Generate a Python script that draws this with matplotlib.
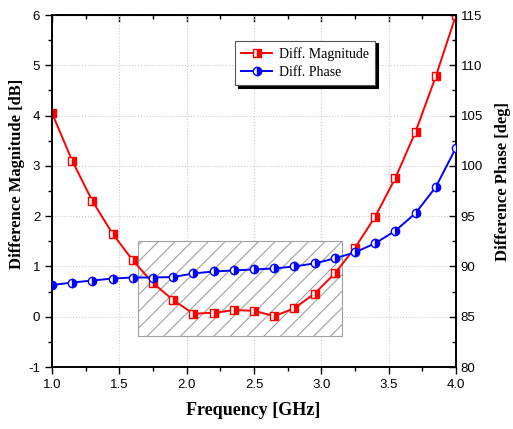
import matplotlib
matplotlib.use("Agg")
import matplotlib.pyplot as plt
from matplotlib.patches import Rectangle
from matplotlib.ticker import MultipleLocator, AutoMinorLocator

freq = [1.0, 1.15, 1.3, 1.45, 1.6, 1.75, 1.9, 2.05, 2.2, 2.35, 2.5,
        2.65, 2.8, 2.95, 3.1, 3.25, 3.4, 3.55, 3.7, 3.85, 4.0]
mag_db = [4.05, 3.10, 2.30, 1.65, 1.12, 0.67, 0.33, 0.06, 0.08, 0.13, 0.12,
          0.01, 0.17, 0.46, 0.86, 1.37, 1.99, 2.76, 3.68, 4.78, 6.0]
phase_deg = [88.15, 88.4, 88.6, 88.8, 88.9, 88.9, 88.95, 89.3, 89.5, 89.6, 89.7,
             89.8, 90.0, 90.3, 90.8, 91.4, 92.3, 93.55, 95.3, 97.9, 101.8]

# highlighted band (GHz, dB)
band_x = (1.64, 3.155)
band_y = (-0.38, 1.5)

plt.rcParams.update({
    "font.family": "Liberation Sans",
    "font.size": 9.5,
    "axes.unicode_minus": False,
    "hatch.color": "#a8a8a8",
    "hatch.linewidth": 0.8,
})

fig = plt.figure(figsize=(5.13, 4.29), dpi=100)
ax = fig.add_axes([0.1014, 0.1445, 0.7875, 0.8205])
ax2 = ax.twinx()

ax.set_xlim(1.0, 4.0)
ax.set_ylim(-1, 6)
ax2.set_ylim(80, 115)

ax.grid(True, color="#cccccc", linestyle=":", linewidth=0.8)
ax.set_axisbelow(True)

ax.add_patch(Rectangle((band_x[0], band_y[0]), band_x[1] - band_x[0], band_y[1] - band_y[0],
                       facecolor="white", edgecolor="#a0a0a0", hatch="//", linewidth=0.8,
                       zorder=1.5))

l1, = ax.plot(freq, mag_db, color="red", linewidth=1.4, marker="s", markersize=5.5,
              fillstyle="right", markerfacecolor="red", markerfacecoloralt="white",
              markeredgecolor="red", markeredgewidth=1.0, zorder=3,
              label="Diff. Magnitude")
l2, = ax2.plot(freq, phase_deg, color="blue", linewidth=1.4, marker="o", markersize=6,
               fillstyle="right", markerfacecolor="blue", markerfacecoloralt="white",
               markeredgecolor="blue", markeredgewidth=1.0, zorder=3,
               label="Diff. Phase")

ax.xaxis.set_major_locator(MultipleLocator(0.5))
ax.xaxis.set_minor_locator(AutoMinorLocator(2))
ax.yaxis.set_major_locator(MultipleLocator(1))
ax.yaxis.set_minor_locator(AutoMinorLocator(2))
ax2.yaxis.set_major_locator(MultipleLocator(5))
ax2.yaxis.set_minor_locator(AutoMinorLocator(2))
ax.xaxis.set_major_formatter(plt.FormatStrFormatter("%.1f"))

ax.tick_params(axis="both", which="major", direction="out", length=5, width=1, top=False)
ax.tick_params(axis="both", which="minor", direction="out", length=3, width=1, top=False)
secax = ax.secondary_xaxis("top")
secax.xaxis.set_major_locator(MultipleLocator(0.5))
secax.xaxis.set_minor_locator(AutoMinorLocator(2))
secax.tick_params(which="major", direction="in", length=5, width=1, labeltop=False)
secax.tick_params(which="minor", direction="in", length=3, width=1)
ax2.tick_params(axis="y", which="major", direction="in", length=5, width=1)
ax2.tick_params(axis="y", which="minor", direction="in", length=3, width=1)

for a in (ax, ax2):
    for s in a.spines.values():
        s.set_linewidth(1.2)

label_font = dict(family="Liberation Serif", fontweight="bold")
ax.set_xlabel("Frequency [GHz]", fontsize=13, **label_font)
ax.set_ylabel("Difference Magnitude [dB]", fontsize=12, **label_font)
ax2.set_ylabel("Difference Phase [deg]", fontsize=12, **label_font)
ax.xaxis.set_label_coords(0.499, -0.10)
ax.yaxis.set_label_coords(-0.066, 0.548)
ax2.yaxis.set_label_coords(1.097, 0.526)

leg = ax2.legend(handles=[l1, l2], loc="upper left", bbox_to_anchor=(0.453, 0.927),
                 prop={"family": "Liberation Serif", "size": 10}, fancybox=False,
                 edgecolor="#555555", framealpha=1,
                 shadow={"color": "black", "alpha": 1}, handlelength=2.2,
                 borderaxespad=0, borderpad=0.45, labelspacing=0.35, handletextpad=0.5)
leg.get_frame().set_linewidth(0.8)

fig.savefig("out.png", dpi=100)
